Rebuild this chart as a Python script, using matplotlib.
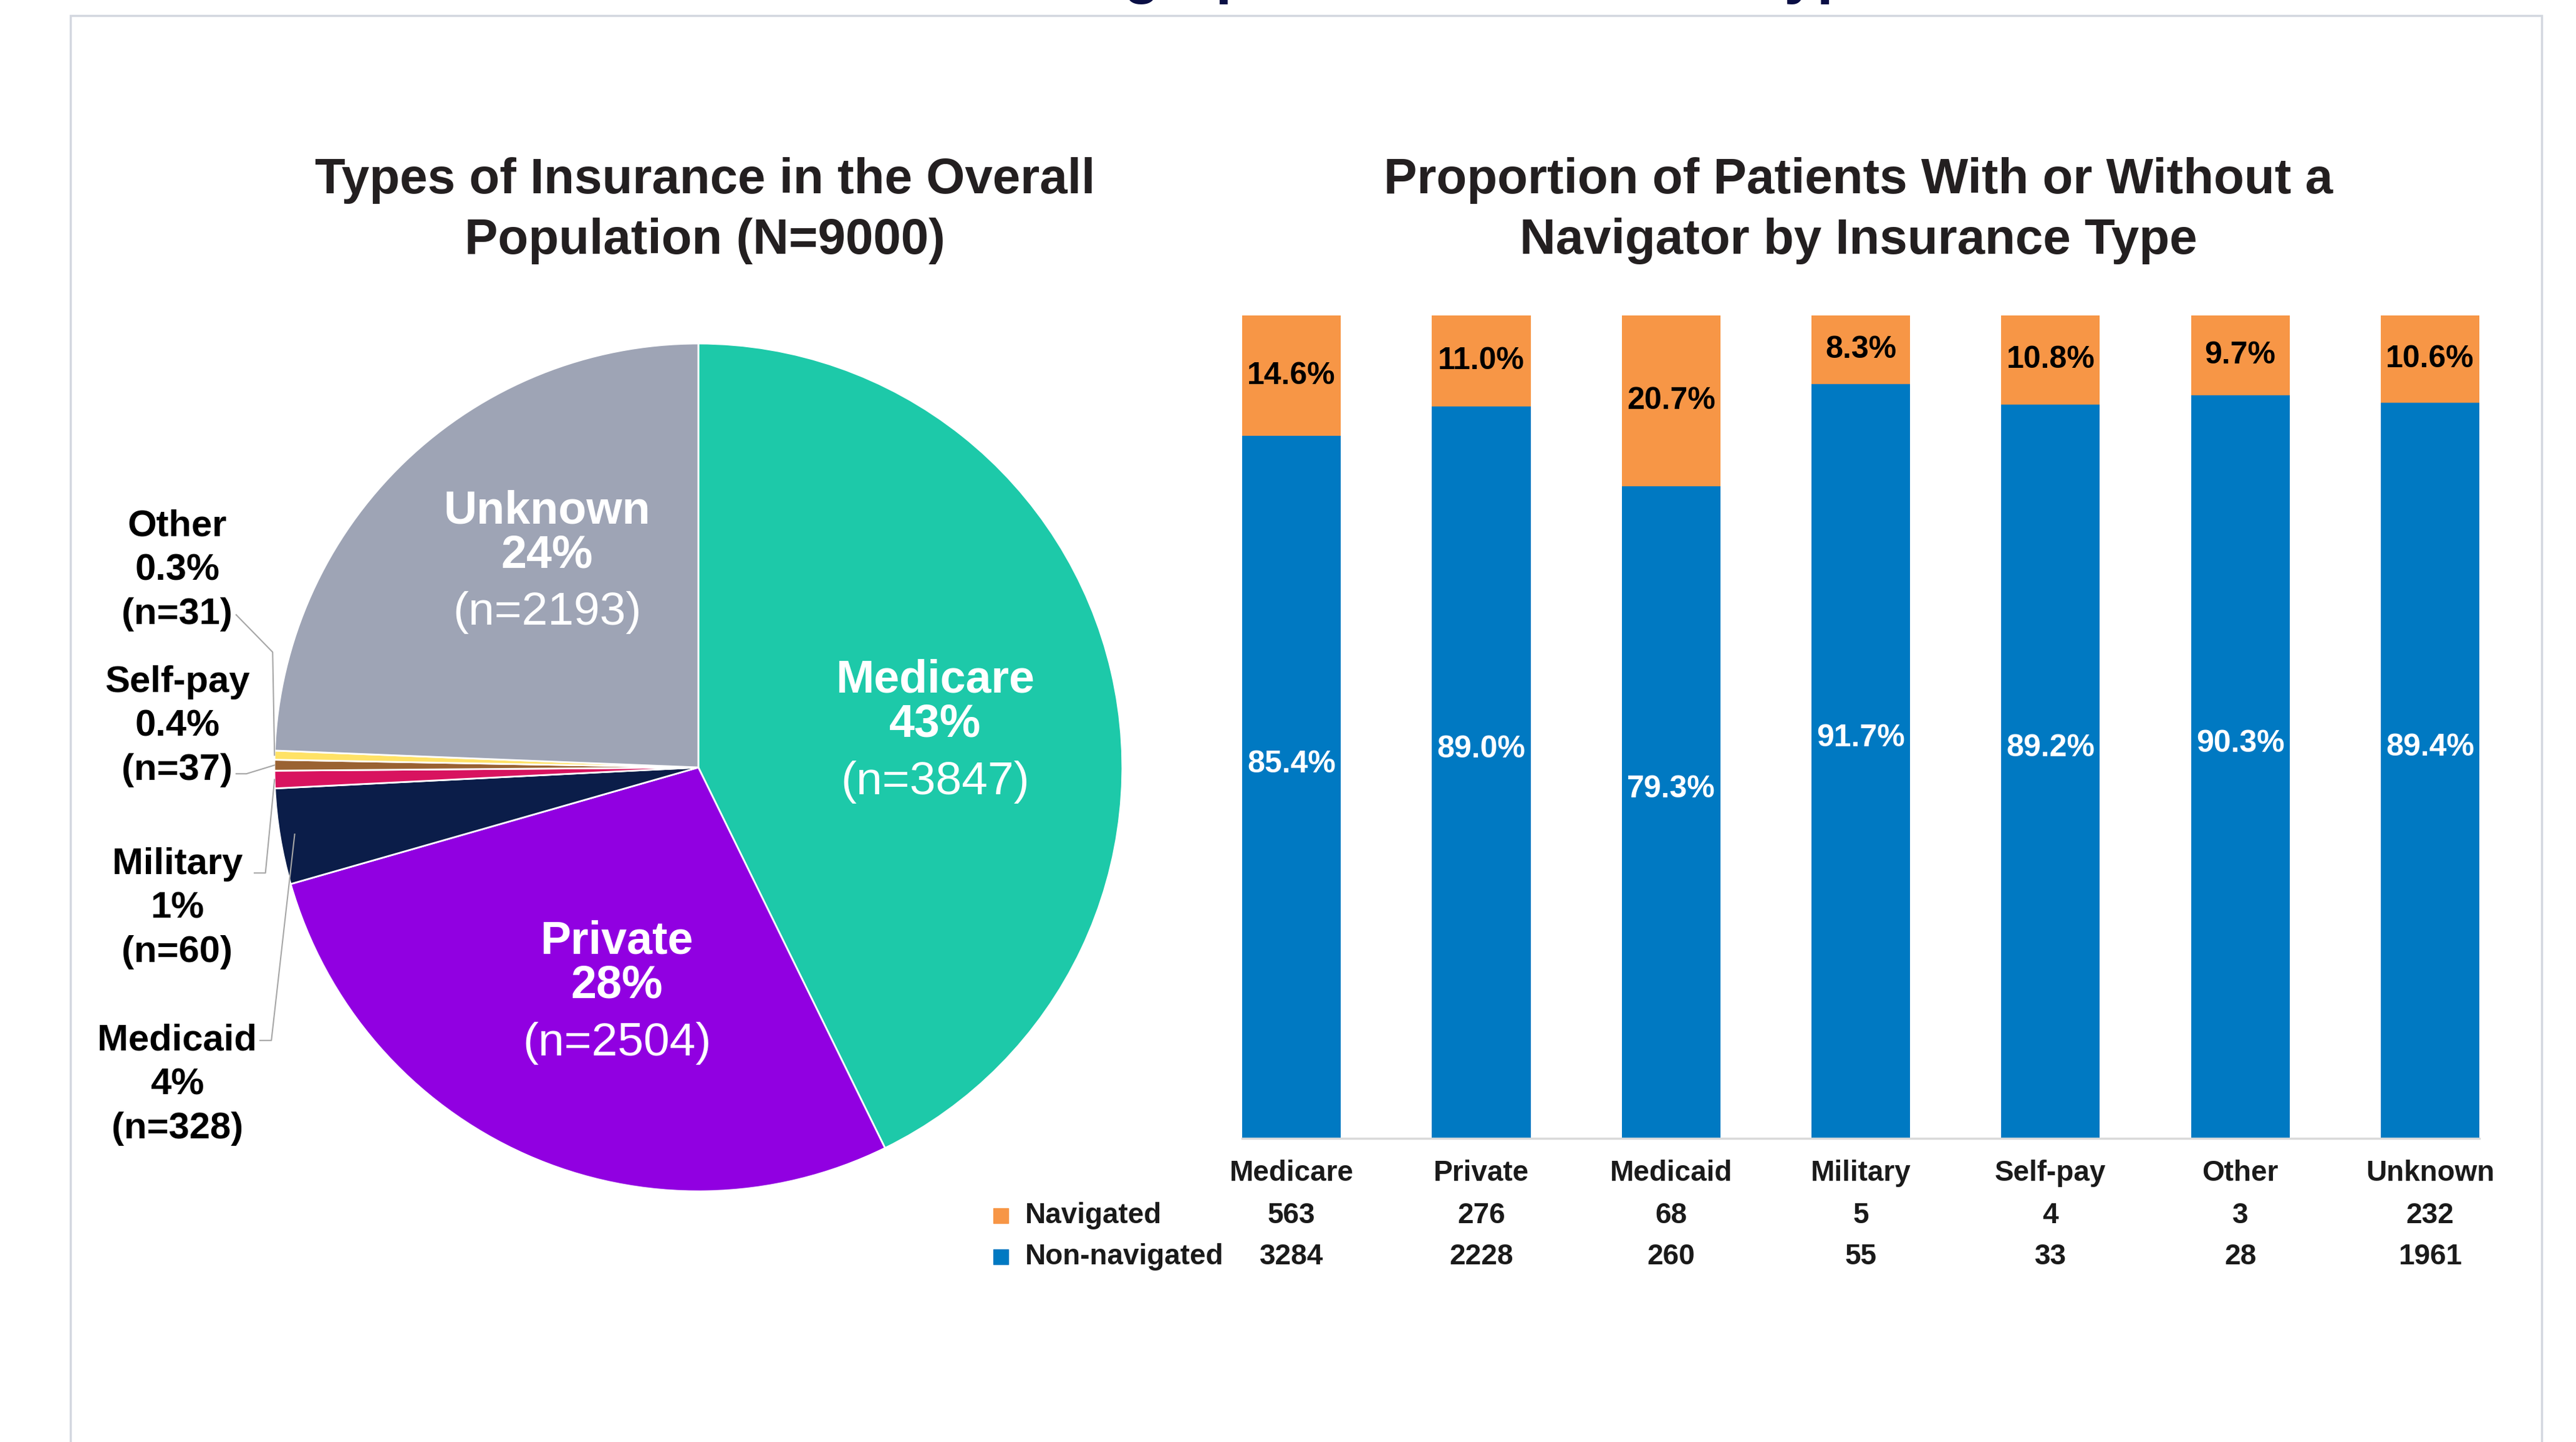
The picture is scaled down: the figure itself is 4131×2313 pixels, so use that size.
import matplotlib.pyplot as plt
import matplotlib.transforms as mtransforms
from matplotlib.patches import Rectangle
import numpy as np

plt.rcParams['font.family'] = ['Liberation Sans', 'DejaVu Sans']

# данные
insurance = ['Medicare', 'Private', 'Medicaid', 'Military', 'Self-pay', 'Other', 'Unknown']
navigated = [563, 276, 68, 5, 4, 3, 232]
non_navigated = [3284, 2228, 260, 55, 33, 28, 1961]

pie_colors = ['#1DC9A9', '#9100E1', '#0B1D49', '#D8135F', '#9A6232', '#FFE266', '#9EA4B5']
nav_color = '#F79646'
non_nav_color = '#0079C2'
text_color = '#1A1A1A'

nav = np.array(navigated)
non = np.array(non_navigated)
totals = nav + non
overall = totals.sum()
pie_pct = totals / overall * 100
nav_pct = nav / totals * 100
non_pct = non / totals * 100


def pct_text(p):
    return f'{p:.1f}%' if p < 0.5 else f'{p:.0f}%'


fig = plt.figure(figsize=(41.31, 23.13), dpi=100)

# рамка слайда и обрезанный заголовок
fig.patches.append(Rectangle((0.0274, -0.2), 0.9593, 1.1892, transform=fig.transFigure,
                             fill=False, edgecolor='#D3D7DF', lw=2.5))
fig.text(0.511, 1.0056, 'Patient Demographics of Insurance Type', ha='center', va='baseline',
         fontsize=68, weight='bold', color='#0A0F45')

fig.text(0.2736, 0.854, 'Types of Insurance in the Overall\nPopulation (N=9000)',
         ha='center', va='center', fontsize=57.5, weight='bold', color='#231F20', linespacing=1.38)
fig.text(0.7214, 0.854, 'Proportion of Patients With or Without a\nNavigator by Insurance Type',
         ha='center', va='center', fontsize=57.5, weight='bold', color='#231F20', linespacing=1.38)

# круговая диаграмма
ax_pie = fig.add_axes([0.1065, 0.1738, 0.3292, 0.588])
wedges, _ = ax_pie.pie(totals, colors=pie_colors, startangle=90, counterclock=False,
                       wedgeprops=dict(edgecolor='white', linewidth=2))
for w in wedges:
    w.set_clip_on(False)
ax_pie.set_xlim(-1, 1)
ax_pie.set_ylim(-1, 1)
ax_pie.set_aspect('equal')
ax_pie.axis('off')

cum = np.concatenate([[0], np.cumsum(totals)[:-1]])
mid_deg = 90 - 360 * (cum + totals / 2) / overall
mid = np.deg2rad(mid_deg)

# положение подписей внутри секторов: (радиус, сдвиг угла)
inner_layout = {'Medicare': (0.567, -2.8), 'Private': (0.55, 3.5), 'Unknown': (0.614, -8.4)}
for name, (r, da) in inner_layout.items():
    i = insurance.index(name)
    a = np.deg2rad(mid_deg[i] + da)
    x, y = r * np.cos(a), r * np.sin(a)
    ax_pie.text(x, y + 0.105, name, ha='center', va='center', fontsize=53, weight='bold', color='white')
    ax_pie.text(x, y, pct_text(pie_pct[i]), ha='center', va='center', fontsize=53, weight='bold', color='white')
    ax_pie.text(x, y - 0.135, f'(n={totals[i]})', ha='center', va='center', fontsize=54, color='white')

# подписи маленьких секторов с выносками
label_x = -1.229
small_layout = {
    'Other': (0.465, (-1.090, 0.360), (-1.004, 0.272), 1.0),
    'Self-pay': (0.097, (-1.090, -0.015), (-1.066, -0.015), 1.0),
    'Military': (-0.333, (-1.047, -0.249), (-1.021, -0.249), 1.0),
    'Medicaid': (-0.748, (-1.034, -0.644), (-1.007, -0.644), 0.965),
}
for name, (ly, start, elbow, r) in small_layout.items():
    i = insurance.index(name)
    ax_pie.text(label_x, ly, f'{name}\n{pct_text(pie_pct[i])}\n(n={totals[i]})', ha='center', va='center',
                fontsize=43, weight='bold', color='black', linespacing=1.36)
    end = (r * np.cos(mid[i]), r * np.sin(mid[i]))
    ax_pie.plot([start[0], elbow[0], end[0]], [start[1], elbow[1], end[1]],
                color='#A6A6A6', lw=1.5, clip_on=False)

# столбчатая диаграмма
ax_bar = fig.add_axes([0.4822, 0.2105, 0.4803, 0.5707])
x = np.arange(len(insurance))
ax_bar.bar(x, non_pct, 0.52, color=non_nav_color)
ax_bar.bar(x, nav_pct, 0.52, bottom=non_pct, color=nav_color)
ax_bar.set_xlim(-0.26, len(insurance) - 0.74)
ax_bar.set_ylim(0, 100)
for s in ['top', 'left', 'right']:
    ax_bar.spines[s].set_visible(False)
ax_bar.spines['bottom'].set_color('#D9D9D9')
ax_bar.spines['bottom'].set_linewidth(2.5)
ax_bar.set_xticks([])
ax_bar.set_yticks([])

for i in x:
    ax_bar.text(i, non_pct[i] + nav_pct[i] / 2, f'{nav_pct[i]:.1f}%', ha='center', va='center',
                fontsize=36, weight='bold', color='black')
    ax_bar.text(i, non_pct[i] / 2 + 2.8, f'{non_pct[i]:.1f}%', ha='center', va='center',
                fontsize=36, weight='bold', color='white')

# таблица под осью
trans = mtransforms.blended_transform_factory(ax_bar.transData, ax_bar.transAxes)
row_y = [-0.042, -0.094, -0.144]
for i, name in enumerate(insurance):
    ax_bar.text(i, row_y[0], name, transform=trans, ha='center', va='center',
                fontsize=33, weight='bold', color=text_color)
    ax_bar.text(i, row_y[1], str(navigated[i]), transform=trans, ha='center', va='center',
                fontsize=33, weight='bold', color=text_color)
    ax_bar.text(i, row_y[2], str(non_navigated[i]), transform=trans, ha='center', va='center',
                fontsize=33, weight='bold', color=text_color)

for ry, lab, col in [(row_y[1], 'Navigated', nav_color), (row_y[2], 'Non-navigated', non_nav_color)]:
    ax_bar.plot([-1.531], [ry], marker='s', ms=17, color=col, transform=trans, clip_on=False)
    ax_bar.text(-1.403, ry, lab, transform=trans, ha='left', va='center',
                fontsize=33, weight='bold', color=text_color)

fig.savefig('out.png', dpi=100)
